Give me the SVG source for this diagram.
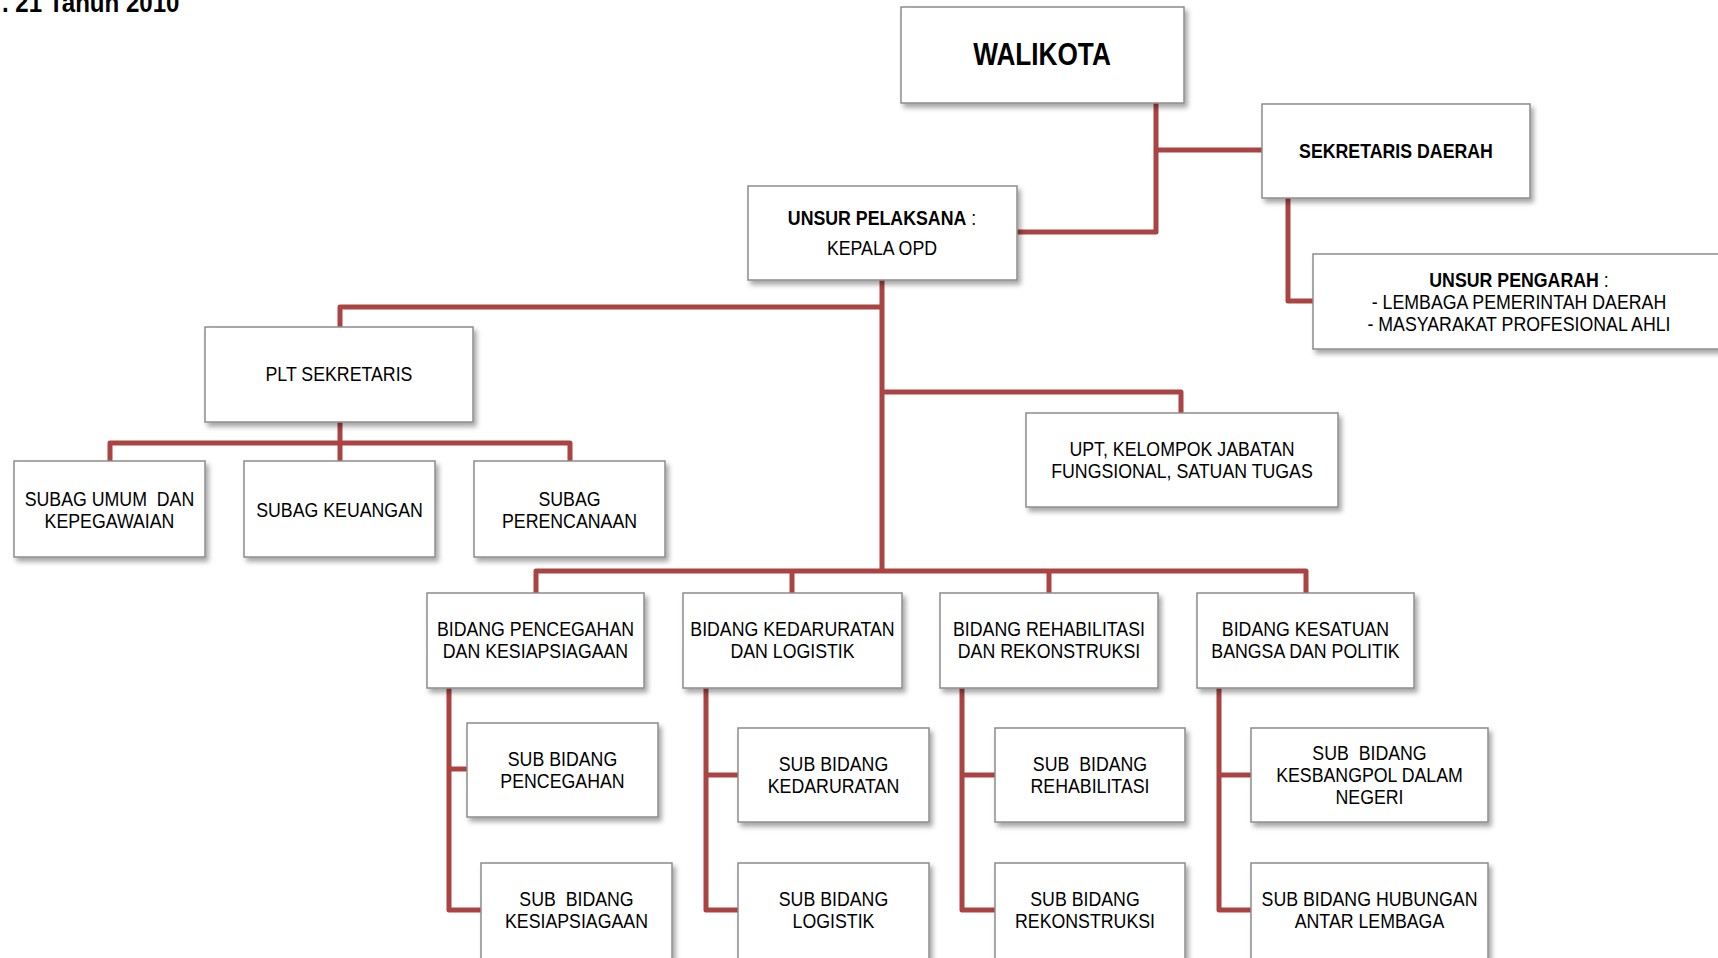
<svg xmlns="http://www.w3.org/2000/svg" width="1718" height="958" viewBox="0 0 1718 958">
<defs>
<filter id="sh" x="-10%" y="-10%" width="130%" height="140%">
<feDropShadow dx="3" dy="4" stdDeviation="2.5" flood-color="#000" flood-opacity="0.35"/>
</filter>
<style>
.box{fill:#fff;stroke:#8c8c8c;stroke-width:1.5;filter:url(#sh)}
.t{font-family:"Liberation Sans Narrow","Liberation Sans",Arial,sans-serif;font-size:21px;fill:#000;text-anchor:middle;transform-box:fill-box;transform-origin:center;transform:scaleX(0.845)}
.b{font-weight:bold}
.title{text-anchor:start;transform-origin:left center;font-size:28.5px}
.ln{fill:none;stroke:#a94442;stroke-width:5;stroke-linejoin:round}
</style>
</defs>
<rect width="1718" height="958" fill="#fff"/>
<text x="2" y="12" class="t b title">. 21 Tahun 2010</text>
<g id="connectors">
<path class="ln" d="M1156,103 V232 H1017"/>
<path class="ln" d="M1156,150 H1262"/>
<path class="ln" d="M1288,198 V301 H1313"/>
<path class="ln" d="M882,280 V571"/>
<path class="ln" d="M882,307 H340 V327"/>
<path class="ln" d="M340,422 V461"/>
<path class="ln" d="M110,461 V443 H570 V461"/>
<path class="ln" d="M882,392 H1181 V413"/>
<path class="ln" d="M536,593 V571 H1306 V593"/>
<path class="ln" d="M792,571 V593"/>
<path class="ln" d="M1049,571 V593"/>
<path class="ln" d="M449,688 V910 H481"/>
<path class="ln" d="M449,769 H467"/>
<path class="ln" d="M706,688 V910 H738"/>
<path class="ln" d="M706,775 H738"/>
<path class="ln" d="M962,688 V910 H995"/>
<path class="ln" d="M962,775 H995"/>
<path class="ln" d="M1219,688 V910 H1251"/>
<path class="ln" d="M1219,775 H1251"/>
</g>
<g id="walikota"><rect class="box" x="901" y="7" width="283" height="96"/><text class="t b" x="1042" y="65" style="font-size:31px">WALIKOTA</text></g>
<g id="sekda"><rect class="box" x="1262" y="104" width="268" height="94"/><text class="t b" x="1396" y="158">SEKRETARIS DAERAH</text></g>
<g id="pelaksana"><rect class="box" x="748" y="186" width="269" height="94"/><text class="t" x="882" y="225"><tspan class="b">UNSUR PELAKSANA</tspan> :</text><text class="t" x="882" y="255">KEPALA OPD</text></g>
<g id="pengarah"><rect class="box" x="1313" y="254" width="420" height="95"/><text class="t" x="1519" y="287"><tspan class="b">UNSUR PENGARAH</tspan> :</text><text class="t" x="1519" y="309">- LEMBAGA PEMERINTAH DAERAH</text><text class="t" x="1519" y="331">- MASYARAKAT PROFESIONAL AHLI</text></g>
<g id="plt"><rect class="box" x="205" y="327" width="268" height="95"/><text class="t" x="339" y="381">PLT SEKRETARIS</text></g>
<g id="subag-umum"><rect class="box" x="14" y="461" width="191" height="96"/><text class="t" x="109.5" y="506" xml:space="preserve">SUBAG UMUM  DAN</text><text class="t" x="109.5" y="528">KEPEGAWAIAN</text></g>
<g id="subag-keuangan"><rect class="box" x="244" y="461" width="191" height="96"/><text class="t" x="339.5" y="517">SUBAG KEUANGAN</text></g>
<g id="subag-perencanaan"><rect class="box" x="474" y="461" width="191" height="96"/><text class="t" x="569.5" y="506">SUBAG</text><text class="t" x="569.5" y="528">PERENCANAAN</text></g>
<g id="upt"><rect class="box" x="1026" y="413" width="312" height="94"/><text class="t" x="1182" y="456">UPT, KELOMPOK JABATAN</text><text class="t" x="1182" y="478">FUNGSIONAL, SATUAN TUGAS</text></g>
<g id="bidang-pencegahan"><rect class="box" x="427" y="593" width="217" height="95"/><text class="t" x="535.5" y="636">BIDANG PENCEGAHAN</text><text class="t" x="535.5" y="658">DAN KESIAPSIAGAAN</text></g>
<g id="bidang-kedaruratan"><rect class="box" x="683" y="593" width="219" height="95"/><text class="t" x="792.5" y="636">BIDANG KEDARURATAN</text><text class="t" x="792.5" y="658">DAN LOGISTIK</text></g>
<g id="bidang-rehabilitasi"><rect class="box" x="940" y="593" width="218" height="95"/><text class="t" x="1049" y="636">BIDANG REHABILITASI</text><text class="t" x="1049" y="658">DAN REKONSTRUKSI</text></g>
<g id="bidang-kesatuan"><rect class="box" x="1197" y="593" width="217" height="95"/><text class="t" x="1305.5" y="636">BIDANG KESATUAN</text><text class="t" x="1305.5" y="658">BANGSA DAN POLITIK</text></g>
<g id="sub-pencegahan"><rect class="box" x="467" y="723" width="191" height="94"/><text class="t" x="562.5" y="766">SUB BIDANG</text><text class="t" x="562.5" y="788">PENCEGAHAN</text></g>
<g id="sub-kesiapsiagaan"><rect class="box" x="481" y="863" width="191" height="110"/><text class="t" x="576.5" y="906" xml:space="preserve">SUB  BIDANG</text><text class="t" x="576.5" y="928">KESIAPSIAGAAN</text></g>
<g id="sub-kedaruratan"><rect class="box" x="738" y="728" width="191" height="94"/><text class="t" x="833.5" y="771">SUB BIDANG</text><text class="t" x="833.5" y="793">KEDARURATAN</text></g>
<g id="sub-logistik"><rect class="box" x="738" y="863" width="191" height="110"/><text class="t" x="833.5" y="906">SUB BIDANG</text><text class="t" x="833.5" y="928">LOGISTIK</text></g>
<g id="sub-rehabilitasi"><rect class="box" x="995" y="728" width="190" height="94"/><text class="t" x="1090" y="771" xml:space="preserve">SUB  BIDANG</text><text class="t" x="1090" y="793">REHABILITASI</text></g>
<g id="sub-rekonstruksi"><rect class="box" x="995" y="863" width="190" height="110"/><text class="t" x="1085" y="906">SUB BIDANG</text><text class="t" x="1085" y="928">REKONSTRUKSI</text></g>
<g id="sub-kesbangpol"><rect class="box" x="1251" y="728" width="237" height="94"/><text class="t" x="1369.5" y="760" xml:space="preserve">SUB  BIDANG</text><text class="t" x="1369.5" y="782">KESBANGPOL DALAM</text><text class="t" x="1369.5" y="804">NEGERI</text></g>
<g id="sub-hubungan"><rect class="box" x="1251" y="863" width="237" height="110"/><text class="t" x="1369.5" y="906">SUB BIDANG HUBUNGAN</text><text class="t" x="1369.5" y="928">ANTAR LEMBAGA</text></g>
</svg>
